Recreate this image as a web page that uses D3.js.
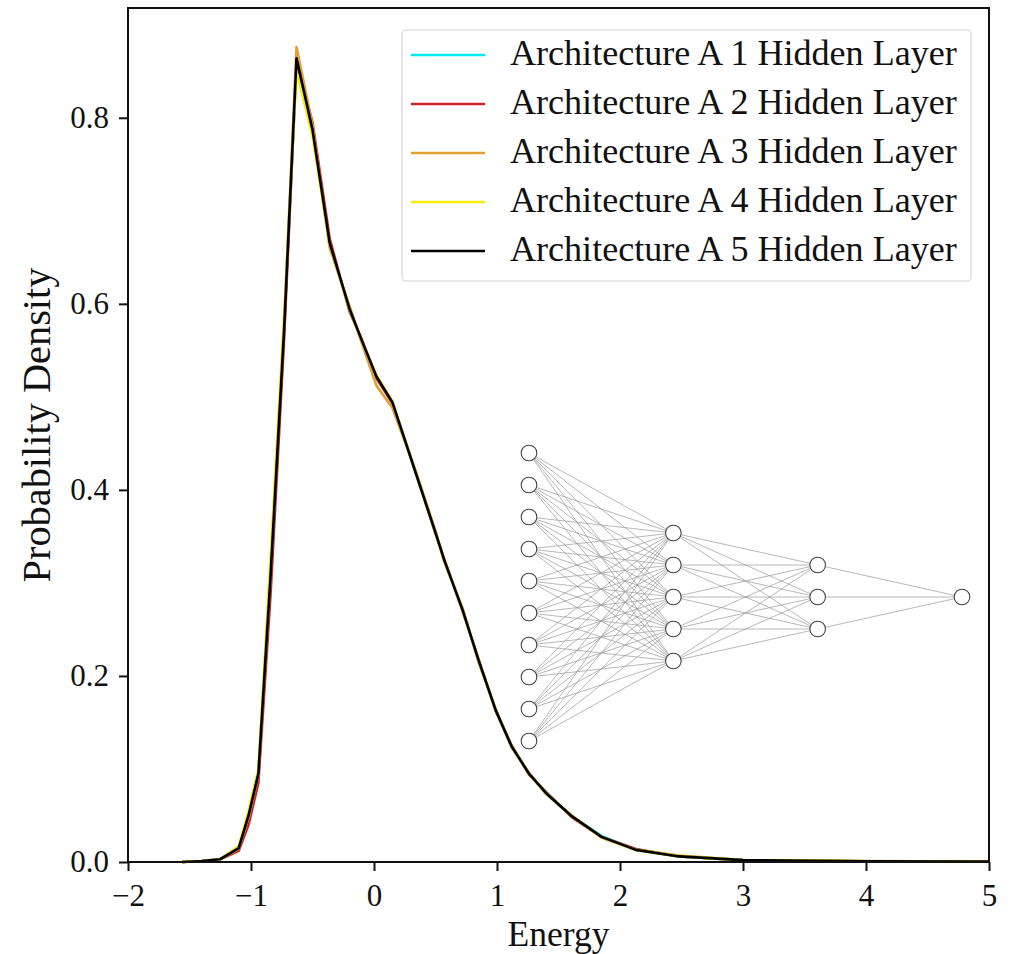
<!DOCTYPE html>
<html>
<head>
<meta charset="utf-8">
<script src="https://cdn.jsdelivr.net/npm/d3@7"></script>
<style>
  body { margin: 0; background: #fff; }
  text { font-family: "Liberation Serif", "DejaVu Serif", serif; fill: #111; }
</style>
</head>
<body>
<svg id="chart" width="1013" height="954"></svg>
<script>
// energy bins (x) and densities per architecture
var energy = [-1.56,-1.40,-1.25,-1.10,-1.02,-0.94,-0.84,-0.73,-0.63,-0.50,-0.36,-0.20,-0.10,0.02,0.15,0.34,0.50,0.57,0.72,0.85,0.99,1.12,1.26,1.40,1.61,1.85,2.13,2.48,3.0,4.0,5.0];
var archA1 = [0,0.001,0.003,0.016,0.052,0.097,0.32,0.580,0.858,0.790,0.662,0.596,0.560,0.521,0.495,0.417,0.355,0.324,0.272,0.216,0.164,0.123,0.096,0.073,0.049,0.028,0.013,0.006,0.002,0.0008,0.0005];
var archA2 = [0,0.001,0.003,0.012,0.040,0.085,0.29,0.565,0.860,0.795,0.670,0.592,0.562,0.520,0.493,0.419,0.353,0.326,0.270,0.218,0.162,0.125,0.094,0.075,0.048,0.027,0.014,0.006,0.002,0.0008,0.0005];
var archA3 = [0,0.001,0.003,0.014,0.048,0.093,0.31,0.580,0.876,0.792,0.660,0.598,0.558,0.512,0.488,0.420,0.356,0.323,0.273,0.215,0.164,0.123,0.096,0.073,0.050,0.026,0.013,0.007,0.002,0.0009,0.0006];
var archA4 = [0,0.001,0.003,0.017,0.055,0.100,0.33,0.590,0.850,0.780,0.663,0.594,0.561,0.523,0.495,0.418,0.354,0.325,0.271,0.217,0.163,0.124,0.095,0.074,0.049,0.027,0.013,0.006,0.002,0.0008,0.0005];
var archA5 = [0,0.001,0.003,0.015,0.050,0.095,0.31,0.575,0.864,0.787,0.665,0.595,0.561,0.522,0.494,0.418,0.354,0.325,0.271,0.217,0.163,0.124,0.095,0.074,0.049,0.027,0.013,0.006,0.002,0.0008,0.0005];

var seriesNames = ["Architecture A 1 Hidden Layer", "Architecture A 2 Hidden Layer", "Architecture A 3 Hidden Layer", "Architecture A 4 Hidden Layer", "Architecture A 5 Hidden Layer"];
var seriesValues = [archA1, archA2, archA3, archA4, archA5];
var colors = ["#00eaf2", "#cc2424", "#e0a032", "#f6ee08", "#000000"];

var xTicks = [-2, -1, 0, 1, 2, 3, 4, 5];
var yTicks = [0, 0.2, 0.4, 0.6, 0.8];

// network inset: nodes per layer
var layerSizes = [10, 5, 3, 1];

var svg = d3.select("#chart");
var pLeft = 128, pRight = 989, pTop = 8, pBottom = 862;

var x = d3.scaleLinear().domain([-2, 5]).range([pLeft, pRight]);
var y = d3.scaleLinear().domain([0, 0.918]).range([pBottom, pTop]);

var fmtMinus = function(s) { return String(s).replace("-", "\u2212"); };

// x axis
var xAxis = svg.append("g")
    .attr("transform", "translate(0," + pBottom + ")")
    .call(d3.axisBottom(x).tickValues(xTicks).tickSize(9).tickPadding(13)
        .tickFormat(function(d) { return fmtMinus(d3.format("d")(d)); }));
xAxis.select(".domain").remove();
xAxis.selectAll(".tick line").attr("stroke", "#111").attr("stroke-width", 2);
xAxis.selectAll(".tick text").attr("font-size", 31).attr("fill", "#111")
    .attr("font-family", "Liberation Serif, serif");

// y axis
var yAxis = svg.append("g")
    .attr("transform", "translate(" + pLeft + ",0)")
    .call(d3.axisLeft(y).tickValues(yTicks).tickSize(9).tickPadding(10)
        .tickFormat(d3.format(".1f")));
yAxis.select(".domain").remove();
yAxis.selectAll(".tick line").attr("stroke", "#111").attr("stroke-width", 2);
yAxis.selectAll(".tick text").attr("font-size", 31).attr("fill", "#111")
    .attr("font-family", "Liberation Serif, serif");

// curves
var line = d3.line()
    .x(function(d) { return x(d[0]); })
    .y(function(d) { return y(d[1]); });

seriesValues.forEach(function(vals, i) {
    var pts = energy.map(function(e, j) { return [e, vals[j]]; });
    svg.append("path")
        .datum(pts)
        .attr("d", line)
        .attr("fill", "none")
        .attr("stroke", colors[i])
        .attr("stroke-width", 2.6)
        .attr("stroke-linejoin", "round");
});

// network inset
var layerX = d3.scaleLinear().domain([0, layerSizes.length - 1]).range([529, 962]);
var nodeY = d3.scaleLinear().domain([0, 1]).range([597, 629]);
var nodes = layerSizes.map(function(n, l) {
    return d3.range(n).map(function(i) {
        return { x: layerX(l), y: nodeY(i - (n - 1) / 2) };
    });
});
var net = svg.append("g");
for (var l = 0; l < nodes.length - 1; l++) {
    nodes[l].forEach(function(a) {
        nodes[l + 1].forEach(function(b) {
            net.append("line")
                .attr("x1", a.x).attr("y1", a.y)
                .attr("x2", b.x).attr("y2", b.y)
                .attr("stroke", "#9a9a9a")
                .attr("stroke-width", 0.7);
        });
    });
}
nodes.forEach(function(layer) {
    net.selectAll(null).data(layer).enter().append("circle")
        .attr("cx", function(d) { return d.x; })
        .attr("cy", function(d) { return d.y; })
        .attr("r", 7.8)
        .attr("fill", "#fff")
        .attr("stroke", "#444")
        .attr("stroke-width", 1.1);
});

// frame
svg.append("rect")
    .attr("x", pLeft).attr("y", pTop)
    .attr("width", pRight - pLeft).attr("height", pBottom - pTop)
    .attr("fill", "none").attr("stroke", "#111").attr("stroke-width", 2);

// legend
var leg = svg.append("g");
leg.append("rect")
    .attr("x", 402).attr("y", 30).attr("width", 569).attr("height", 251)
    .attr("rx", 4)
    .attr("fill", "#fff").attr("fill-opacity", 0.85)
    .attr("stroke", "#d4d4d4").attr("stroke-width", 1.2);
seriesNames.forEach(function(name, i) {
    var cy = 55 + i * 49;
    leg.append("line")
        .attr("x1", 411).attr("x2", 485)
        .attr("y1", cy).attr("y2", cy)
        .attr("stroke", colors[i]).attr("stroke-width", 2.6);
    var t = leg.append("text")
        .attr("x", 510).attr("y", cy + 10)
        .attr("font-size", 29)
        .text(name);
    var w = t.node().getComputedTextLength();
    t.attr("font-size", 29 * 447 / w);
});

// axis labels
var xl = svg.append("text")
    .attr("x", (pLeft + pRight) / 2).attr("y", 946)
    .attr("text-anchor", "middle")
    .attr("font-size", 30)
    .text("Energy");
xl.attr("font-size", 30 * 102 / xl.node().getComputedTextLength());

var yl = svg.append("text")
    .attr("transform", "translate(50,425) rotate(-90)")
    .attr("text-anchor", "middle")
    .attr("font-size", 30)
    .text("Probability Density");
yl.attr("font-size", 30 * 315 / yl.node().getComputedTextLength());
</script>
</body>
</html>
